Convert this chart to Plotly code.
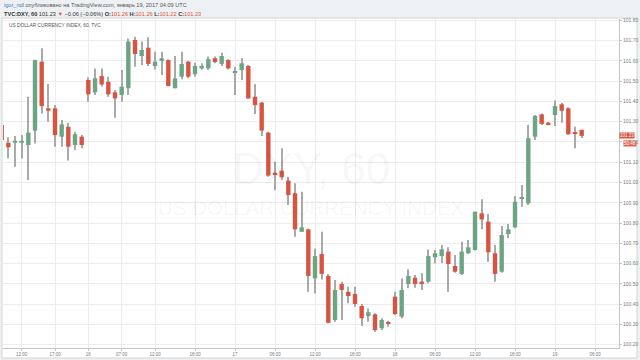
import plotly.graph_objects as go

# ---- data (hourly DXY candles) ----
opens = [101.284, 101.196, 101.196, 101.196, 101.185, 101.256, 101.596, 101.366, 101.366, 101.226,
         101.275, 101.185, 101.226, 101.506, 101.445, 101.525, 101.497, 101.445, 101.432, 101.465,
         101.703, 101.624, 101.665, 101.575, 101.604, 101.604, 101.465, 101.522, 101.596, 101.534,
         101.563, 101.563, 101.613, 101.585, 101.604, 101.544, 101.555, 101.575, 101.423, 101.394,
         101.246, 101.048, 101.058, 101.009, 100.947, 100.757, 100.769, 100.527, 100.647, 100.539,
         100.322, 100.499, 100.461, 100.450, 100.391, 100.341, 100.350, 100.281, 100.310, 100.437,
         100.338, 100.499, 100.530, 100.511, 100.511, 100.631, 100.637, 100.659, 100.588, 100.549,
         100.651, 100.667, 100.848, 100.807, 100.651, 100.560, 100.746, 100.779, 100.919, 100.897,
         101.226, 101.336, 101.295, 101.333, 101.386, 101.366, 101.246, 101.260]
highs = [101.290, 101.223, 101.229, 101.234, 101.423, 101.605, 101.662, 101.486, 101.382, 101.308,
         101.295, 101.251, 101.234, 101.519, 101.563, 101.563, 101.522, 101.456, 101.555, 101.711,
         101.719, 101.695, 101.716, 101.645, 101.645, 101.608, 101.624, 101.645, 101.601, 101.591,
         101.588, 101.621, 101.621, 101.640, 101.608, 101.571, 101.613, 101.580, 101.486, 101.399,
         101.251, 101.103, 101.169, 101.029, 100.996, 100.955, 100.772, 100.675, 100.757, 100.549,
         100.519, 100.511, 100.486, 100.486, 100.401, 100.379, 100.355, 100.330, 100.318, 100.461,
         100.527, 100.572, 100.544, 100.552, 100.670, 100.667, 100.692, 100.680, 100.642, 100.708,
         100.716, 100.856, 100.917, 100.845, 100.692, 100.785, 100.795, 100.933, 100.988, 101.284,
         101.333, 101.341, 101.300, 101.404, 101.394, 101.371, 101.275, 101.260]
lows = [101.200, 101.119, 101.078, 101.119, 101.012, 101.193, 101.341, 101.300, 101.177, 101.177,
        101.108, 101.160, 101.169, 101.399, 101.432, 101.473, 101.423, 101.320, 101.399, 101.432,
        101.571, 101.580, 101.575, 101.558, 101.530, 101.473, 101.465, 101.509, 101.514, 101.522,
        101.558, 101.555, 101.588, 101.575, 101.558, 101.432, 101.506, 101.412, 101.338, 101.229,
        101.029, 100.963, 101.012, 100.889, 100.733, 100.757, 100.461, 100.453, 100.522, 100.305,
        100.313, 100.322, 100.404, 100.387, 100.292, 100.313, 100.264, 100.272, 100.289, 100.346,
        100.330, 100.478, 100.481, 100.470, 100.503, 100.601, 100.603, 100.461, 100.555, 100.544,
        100.647, 100.664, 100.769, 100.609, 100.511, 100.555, 100.725, 100.774, 100.881, 100.889,
        101.210, 101.284, 101.282, 101.279, 101.295, 101.234, 101.169, 101.220]
closes = [101.210, 101.174, 101.206, 101.206, 101.246, 101.604, 101.377, 101.354, 101.234, 101.287,
          101.177, 101.238, 101.185, 101.435, 101.514, 101.484, 101.435, 101.415, 101.473, 101.695,
          101.634, 101.654, 101.585, 101.596, 101.613, 101.476, 101.514, 101.585, 101.522, 101.575,
          101.575, 101.608, 101.594, 101.624, 101.563, 101.547, 101.588, 101.415, 101.382, 101.256,
          101.034, 101.037, 101.026, 100.938, 100.769, 100.779, 100.539, 100.637, 100.549, 100.308,
          100.470, 100.470, 100.440, 100.401, 100.330, 100.360, 100.272, 100.322, 100.302, 100.351,
          100.470, 100.539, 100.499, 100.499, 100.637, 100.651, 100.670, 100.598, 100.560, 100.659,
          100.680, 100.856, 100.818, 100.656, 100.549, 100.741, 100.769, 100.905, 100.927, 101.218,
          101.328, 101.289, 101.287, 101.377, 101.354, 101.238, 101.243, 101.230]

tick_positions = [3, 8, 13, 18, 23, 29, 35, 41, 47, 53, 59, 65, 71, 77, 83, 89]
tick_labels = ["12:00", "17:00", "16", "07:00", "12:00", "18:00", "17", "06:00",
               "12:00", "18:00", "18", "06:00", "12:00", "18:00", "19", "06:00"]
price_ticks = [round(100.2 + 0.1 * k, 2) for k in range(17)]

last_price = closes[-1]

# ---- styles ----
UP = "#6ba583"
DOWN = "#d75442"
WICK = "#a9a9a9"
GRID = "#ececec"
AXIS = "#c4c4c4"
TXT = "#7a7a7a"
FONT = "Liberation Sans, Arial, sans-serif"

x = list(range(len(opens)))
body_base = [min(o, c) for o, c in zip(opens, closes)]
body_h = [max(abs(c - o), 0.004) for o, c in zip(opens, closes)]
body_col = [UP if c >= o else DOWN for o, c in zip(opens, closes)]
wick_h = [h - l for h, l in zip(highs, lows)]

fig = go.Figure()
fig.add_trace(go.Bar(x=x, base=lows, y=wick_h, width=0.15,
                     marker=dict(color=WICK, line=dict(width=0)), hoverinfo="skip"))
fig.add_trace(go.Bar(x=x, base=body_base, y=body_h, width=0.66,
                     marker=dict(color=body_col, line=dict(width=0)), hoverinfo="skip"))

# pixel helpers for paper coordinates (plot area: x 3..619, y 19..348)
def px(v):
    return (v - 3) / 616.0

def py(v):
    return (348 - v) / 329.0

fig.update_layout(
    width=640, height=360,
    margin=dict(l=3, r=21, t=19, b=12, autoexpand=False),
    paper_bgcolor="#eef1f4",
    plot_bgcolor="white",
    barmode="overlay",
    showlegend=False,
    font=dict(family=FONT),
    xaxis=dict(range=[0.2, 92.6], tickmode="array", tickvals=tick_positions,
               ticktext=tick_labels, showgrid=True, gridcolor=GRID, gridwidth=1,
               showline=True, linecolor=AXIS, linewidth=1, ticks="outside",
               ticklen=2, tickcolor=AXIS, tickfont=dict(size=4.5, color=TXT),
               zeroline=False, fixedrange=True),
    yaxis=dict(side="right", range=[100.1836, 101.8066], tickmode="array",
               tickvals=price_ticks, tickformat=".2f", showgrid=True,
               gridcolor=GRID, gridwidth=1, showline=True, linecolor=AXIS,
               linewidth=1, ticks="outside", ticklen=2, tickcolor=AXIS,
               tickfont=dict(size=5, color=TXT), zeroline=False, fixedrange=True),
    shapes=[dict(type="rect", xref="paper", yref="paper", layer="below",
                 x0=px(2), x1=px(637), y0=py(358), y1=py(18),
                 fillcolor="white", line=dict(color="#d4d4d4", width=1))],
)

red = DOWN
header1 = ('<span style="color:#3b7fc4">igor_ndl</span> опубликовано на TradingView.com, '
           'январь 19, 2017 04:09 UTC')
header2 = ('<b>TVC:DXY, 60</b> 101.23 <span style="color:%s">▼</span> −0.06 (−0.06%%) '
           '<b>O:</b><span style="color:%s">101.26</span> '
           '<b>H:</b><span style="color:%s">101.26</span> '
           '<b>L:</b><span style="color:%s">101.22</span> '
           '<b>C:</b><span style="color:%s">101.23</span>') % (red, red, red, red, red)

ann = [
    dict(text=header1, x=px(2), y=py(5), xref="paper", yref="paper",
         xanchor="left", yanchor="middle", showarrow=False,
         font=dict(size=5.6, color="#555555", family=FONT)),
    dict(text=header2, x=px(2), y=py(14), xref="paper", yref="paper",
         xanchor="left", yanchor="middle", showarrow=False,
         font=dict(size=5.6, color="#333333", family=FONT)),
    dict(text="US DOLLAR CURRENCY INDEX, 60, TVC", x=px(7), y=py(25.5),
         xref="paper", yref="paper", xanchor="left", yanchor="middle",
         showarrow=False, font=dict(size=4.8, color="#555555", family=FONT)),
    dict(text="DXY, 60", x=px(311), y=py(168), xref="paper", yref="paper",
         xanchor="center", yanchor="middle", showarrow=False,
         font=dict(size=44, color="rgba(0,0,0,0.045)", family=FONT)),
    dict(text="US DOLLAR CURRENCY INDEX", x=px(311), y=py(207), xref="paper",
         yref="paper", xanchor="center", yanchor="middle", showarrow=False,
         font=dict(size=20.5, color="rgba(0,0,0,0.045)", family=FONT)),
    dict(text="%.2f" % last_price, x=1, y=last_price, xref="paper", yref="y",
         xanchor="left", yanchor="middle", showarrow=False, xshift=0,
         bgcolor=DOWN, borderpad=0,
         font=dict(size=4.5, color="white", family=FONT)),
    dict(text="50:48", x=1, y=last_price, xref="paper", yref="y",
         xanchor="left", yanchor="middle", showarrow=False, xshift=4, yshift=-7.5,
         bgcolor="#dd6553", borderpad=0,
         font=dict(size=4.5, color="white", family=FONT)),
]
fig.update_layout(annotations=ann)

fig.write_html("out.html", config={"displayModeBar": False},
               post_script="document.body.style.margin='0';document.body.style.overflow='hidden';")
